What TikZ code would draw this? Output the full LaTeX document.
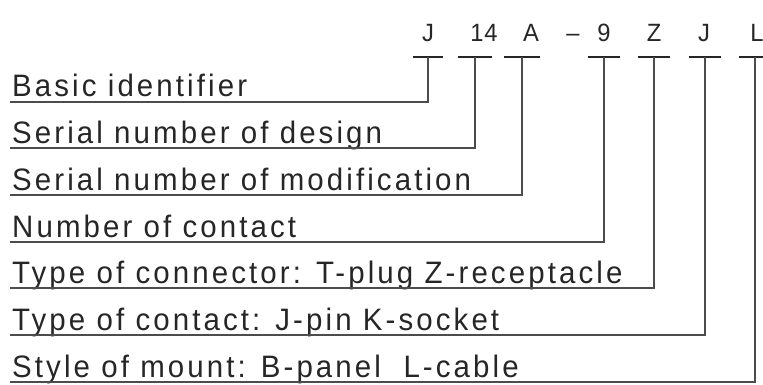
\documentclass[tikz,border=0pt]{standalone}
\usepackage{fontspec}
\newfontfamily\techfont[FakeStretch=0.95,LetterSpace=10]{Liberation Sans}
\newfontfamily\codefont[FakeStretch=0.95,LetterSpace=4]{Liberation Sans}
\begin{document}
\begin{tikzpicture}[x=1pt,y=-1pt,
  lbl/.style={font=\techfont\fontsize{31}{33}\selectfont, inner sep=0pt, anchor=base west, text=black!85},
  code/.style={font=\codefont\fontsize{25}{27}\selectfont, inner sep=0pt, anchor=base, text=black!85},
  ln/.style={line width=1.6pt, draw=black!70},
  bar/.style={line width=1.6pt, draw=black!85}]
\useasboundingbox (0,0) rectangle (763,385);
% code letters
\node[code] (cJ) at (428,42) {J};
\node[code] (c14) at (484,42) {14};
\node[code] (cA) at (531,42) {A};
\node[code] (cD) at (573,42) {\textendash};
\node[code] (c9) at (604,42) {9};
\node[code] (cZ) at (654,42) {Z};
\node[code] (cJ2) at (704,42) {J};
\node[code] (cL) at (757,42) {L};
% T-bar junctions
\coordinate (vJ) at (428,57);
\coordinate (v14) at (475,57);
\coordinate (vA) at (522,57);
\coordinate (v9) at (604,57);
\coordinate (vZ) at (654,57);
\coordinate (vJ2) at (705,57);
\coordinate (vL) at (755,57);
\foreach \v/\w in {vJ/15,v14/17,vA/18,v9/16,vZ/16,vJ2/16,vL/16}
  \draw[bar] ([xshift=-\w]\v) -- ([xshift=\w]\v);
% labels
\node[lbl] (l1) at (12,97) {Basic identifier};
\node[lbl] (l2) at (12,143) {Serial number of design};
\node[lbl] (l3) at (12,190) {Serial number of modification};
\node[lbl] (l4) at (12,237) {Number of contact};
\node[lbl] (l5) at (12,283) {Type of connector: T-plug Z-receptacle};
\node[lbl] (l6) at (12,330) {Type of contact: J-pin K-socket};
\node[lbl] (l7) at (12,377) {Style of mount: B-panel\ \ L-cable};
% underline starts
\coordinate (s1) at (10,102);
\coordinate (s2) at (10,148);
\coordinate (s3) at (10,195);
\coordinate (s4) at (10,242);
\coordinate (s5) at (10,288);
\coordinate (s6) at (10,335);
\coordinate (s7) at (10,382);
\foreach \s/\v in {s1/vJ,s2/v14,s3/vA,s4/v9,s5/vZ,s6/vJ2,s7/vL}
  \draw[ln] (\s) -- (\s -| \v) -- (\v);
\end{tikzpicture}
\end{document}
